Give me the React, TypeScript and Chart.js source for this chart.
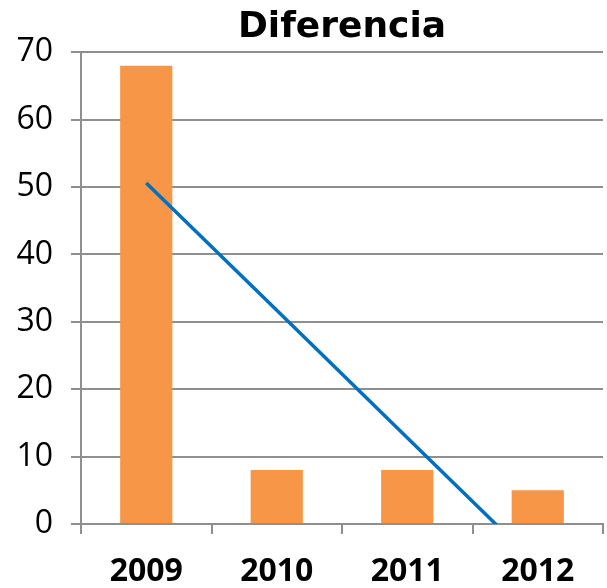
import React, { useEffect, useRef } from "react";
import { Chart, registerables } from "chart.js";

Chart.register(...registerables);

const categories = ["2009", "2010", "2011", "2012"];
const diferencia = [68, 8, 8, 5];
const tendencia = [50.6, 31.7, 12.8, -6.1];
const yMin = 0;
const yMax = 70;
const yStep = 10;
const chartTitle = "Diferencia";

const GRID = "#8f8f8f";

export default function App() {
  const ref = useRef<HTMLCanvasElement | null>(null);
  useEffect(() => {
    if (!ref.current) return;
    const chart = new Chart(ref.current, {
      type: "bar",
      data: {
        labels: categories,
        datasets: [
          {
            type: "line",
            label: "Tendencia",
            data: tendencia,
            borderColor: "#0070C0",
            borderWidth: 3.5,
            pointRadius: 0,
            fill: false,
            tension: 0,
            order: 0,
            clip: 0,
          } as any,
          {
            type: "bar",
            label: chartTitle,
            data: diferencia,
            backgroundColor: "#F79646",
            barPercentage: 0.4,
            categoryPercentage: 1,
            order: 1,
          },
        ],
      },
      options: {
        animation: false,
        responsive: false,
        maintainAspectRatio: false,
        layout: { padding: { left: 10, right: 4, top: 0, bottom: 0 } },
        plugins: {
          legend: { display: false },
          tooltip: { enabled: false },
          title: {
            display: true,
            text: chartTitle,
            color: "#000",
            fullSize: false,
            font: { family: "DejaVu Sans", size: 36, weight: "bold" },
            padding: { top: 6, bottom: 3 },
          },
        },
        scales: {
          x: {
            offset: true,
            afterFit: (scale: any) => {
              scale.height = 64;
            },
            grid: {
              offset: true,
              drawOnChartArea: true,
              color: (ctx: any) => (ctx.index === categories.length ? GRID : "rgba(0,0,0,0)"),
              tickColor: GRID,
              tickLength: 10,
              lineWidth: 2,
            },
            border: { color: GRID, width: 2 },
            ticks: {
              color: "#000",
              font: { family: "Open Sans", size: 32, weight: "bold" },
              padding: 19,
              maxRotation: 0,
            },
          },
          y: {
            min: yMin,
            max: yMax,
            afterFit: (scale: any) => {
              scale.width = 71;
            },
            grid: { color: GRID, lineWidth: 2, tickLength: 10, tickColor: GRID },
            border: { color: GRID, width: 2 },
            ticks: {
              stepSize: yStep,
              color: "#000",
              font: { family: "Open Sans", size: 32 },
              padding: 18,
            },
          },
        },
      },
    });
    return () => chart.destroy();
  }, []);
  return (
    <div style={{ position: "fixed", left: 0, top: 0, width: 607, height: 588, background: "#fff" }}>
      <canvas ref={ref} width={607} height={588} style={{ width: 607, height: 588 }} />
    </div>
  );
}
